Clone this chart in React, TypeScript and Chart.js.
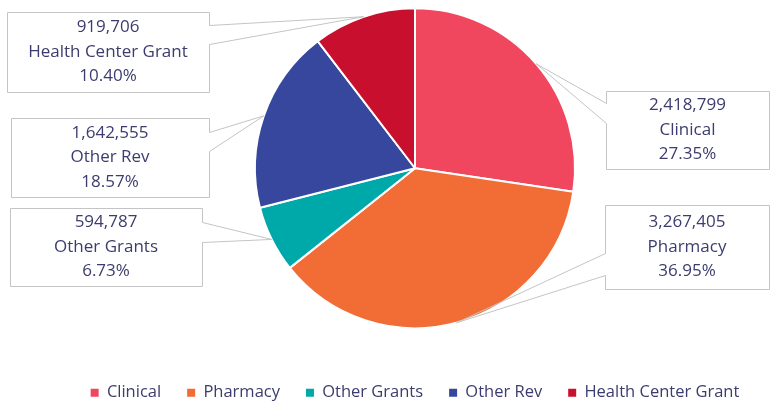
import React, { useEffect, useRef } from 'react';
import { Chart, registerables } from 'chart.js';

Chart.register(...registerables);

const categories = ['Clinical', 'Pharmacy', 'Other Grants', 'Other Rev', 'Health Center Grant'];
const values = [2418799, 3267405, 594787, 1642555, 919706];
const colors = ['#F0465E', '#F26C36', '#00A9A9', '#36479D', '#C8102E'];

const FONT = "'Open Sans', sans-serif";
const TEXT = '#3C3C6E';
const LINE = '#C4C4C4';

// callout box layout (canvas pixels): box rect, side carrying the pointer, pointer base y's
const calloutBoxes = [
  { x: 606, y: 91, w: 163, h: 78, side: 'left', p1: 103, p2: 123 },
  { x: 605, y: 205, w: 164, h: 84, side: 'left', p1: 253, p2: 275 },
  { x: 10, y: 208, w: 192, h: 78, side: 'right', p1: 222, p2: 242 },
  { x: 11, y: 118, w: 198, h: 79, side: 'right', p1: 132, p2: 151 },
  { x: 7, y: 12, w: 202, h: 80, side: 'right', p1: 25, p2: 44 },
];

const calloutPlugin = {
  id: 'callouts',
  afterDatasetsDraw(chart: any) {
    const meta = chart.getDatasetMeta(0);
    const ctx = chart.ctx as CanvasRenderingContext2D;
    const total = values.reduce((a, b) => a + b, 0);
    meta.data.forEach((arc: any, i: number) => {
      const { x, y, startAngle, endAngle, outerRadius } = arc.getProps(
        ['x', 'y', 'startAngle', 'endAngle', 'outerRadius'],
        true
      );
      const mid = (startAngle + endAngle) / 2;
      const tx = x + Math.cos(mid) * outerRadius;
      const ty = y + Math.sin(mid) * outerRadius;
      const b = calloutBoxes[i];
      const x0 = b.x + 0.5;
      const y0 = b.y + 0.5;
      const x1 = b.x + b.w + 0.5;
      const y1 = b.y + b.h + 0.5;
      ctx.save();
      ctx.fillStyle = '#ffffff';
      ctx.fillRect(x0, y0, b.w, b.h);
      ctx.beginPath();
      if (b.side === 'left') {
        ctx.moveTo(x0, y0);
        ctx.lineTo(x1, y0);
        ctx.lineTo(x1, y1);
        ctx.lineTo(x0, y1);
        ctx.lineTo(x0, b.p2 + 0.5);
        ctx.lineTo(tx, ty);
        ctx.lineTo(x0, b.p1 + 0.5);
        ctx.closePath();
      } else {
        ctx.moveTo(x0, y0);
        ctx.lineTo(x1, y0);
        ctx.lineTo(x1, b.p1 + 0.5);
        ctx.lineTo(tx, ty);
        ctx.lineTo(x1, b.p2 + 0.5);
        ctx.lineTo(x1, y1);
        ctx.lineTo(x0, y1);
        ctx.closePath();
      }
      ctx.strokeStyle = LINE;
      ctx.lineWidth = 1;
      ctx.stroke();

      ctx.fillStyle = TEXT;
      ctx.font = `17px ${FONT}`;
      ctx.textAlign = 'center';
      ctx.textBaseline = 'middle';
      const cx = b.x + b.w / 2;
      const cy = b.y + b.h / 2;
      const pct = ((values[i] / total) * 100).toFixed(2) + '%';
      ctx.fillText(values[i].toLocaleString('en-US'), cx, cy - 24.5);
      ctx.fillText(categories[i], cx, cy);
      ctx.fillText(pct, cx, cy + 24.5);
      ctx.restore();
    });
  },
};

export default function App() {
  const canvasRef = useRef<HTMLCanvasElement | null>(null);

  useEffect(() => {
    if (!canvasRef.current) return;
    const chart = new Chart(canvasRef.current, {
      type: 'pie',
      data: {
        labels: categories,
        datasets: [
          {
            data: values,
            backgroundColor: colors,
            borderColor: '#ffffff',
            borderWidth: 2,
            radius: 160,
          } as any,
        ],
      },
      options: {
        animation: false,
        responsive: true,
        maintainAspectRatio: false,
        layout: { padding: { left: 60, right: 0, top: 0, bottom: 0 } },
        plugins: {
          tooltip: { enabled: false },
          title: {
            display: true,
            position: 'bottom',
            text: '',
            padding: 0,
            weight: 500,
            font: { size: 22, lineHeight: 1 },
          } as any,
          legend: {
            position: 'bottom',
            labels: {
              boxWidth: 8,
              boxHeight: 8,
              padding: 26,
              color: TEXT,
              font: { family: FONT, size: 16.5 },
              generateLabels: (c: any) => {
                const base = (Chart as any).overrides.pie.plugins.legend.labels.generateLabels(c);
                return base.map((l: any) => ({ ...l, lineWidth: 0, strokeStyle: 'rgba(0,0,0,0)' }));
              },
            },
          },
        },
      },
      plugins: [calloutPlugin],
    });
    return () => chart.destroy();
  }, []);

  return (
    <div style={{ position: 'fixed', left: 0, top: 0, width: 770, height: 411 }}>
      <canvas ref={canvasRef} />
    </div>
  );
}
